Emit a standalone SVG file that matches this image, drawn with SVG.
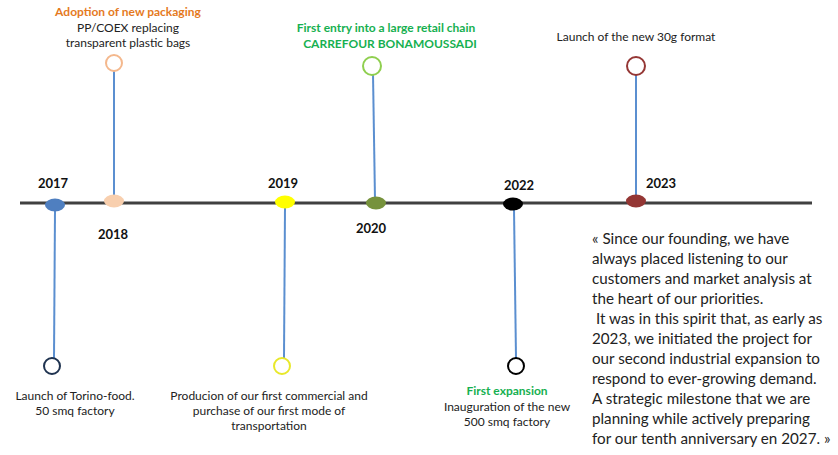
<svg xmlns="http://www.w3.org/2000/svg" width="838" height="455" viewBox="0 0 838 455">
<style>
text{font-family:Lato,"Liberation Sans",sans-serif;fill:#222}
.yr{font-size:13px;font-weight:bold;fill:#111}
.sm{font-size:12px;text-anchor:middle}
.tt{font-size:12px;font-weight:bold;text-anchor:middle}
.q{font-size:15.2px;white-space:pre}
.stem{stroke:#5b8fd0;stroke-width:2}
.ring{fill:#fff;stroke-width:2}
</style>
<rect width="838" height="455" fill="#fff"/>
<g id="connectors">
<line x1="20" y1="203" x2="812" y2="203" stroke="#404040" stroke-width="3"/>
<line class="stem" x1="114" y1="71" x2="114" y2="198"/>
<line class="stem" x1="373" y1="74" x2="375" y2="200"/>
<line class="stem" x1="636" y1="74" x2="636" y2="198"/>
<line class="stem" x1="55" y1="210" x2="54" y2="358"/>
<line class="stem" x1="285" y1="207" x2="284" y2="358"/>
<line class="stem" x1="514" y1="209" x2="516" y2="358"/>
</g>
<g id="n2017"><ellipse cx="55" cy="205" rx="10" ry="6.5" fill="#4f7fc0"/><text class="yr" x="38" y="188">2017</text>
<circle class="ring" cx="52" cy="366" r="8" stroke="#1f3350"/>
<text class="sm" x="75" y="400">Launch of Torino-food.</text><text class="sm" x="75" y="415">50 smq factory</text></g>
<g id="n2018"><ellipse cx="114" cy="201" rx="10" ry="6.5" fill="#f8cfae"/><text class="yr" x="98" y="239">2018</text>
<circle class="ring" cx="114" cy="63" r="8" stroke="#f4b88d"/>
<text class="tt" x="128" y="16" style="fill:#e57a1e">Adoption of new packaging</text>
<text class="sm" x="128" y="32">PP/COEX replacing</text><text class="sm" x="128" y="47">transparent plastic bags</text></g>
<g id="n2019"><ellipse cx="285" cy="202" rx="10" ry="6.5" fill="#ffff00"/><text class="yr" x="268" y="188">2019</text>
<circle class="ring" cx="282" cy="366" r="8" stroke="#e8e82a"/>
<text class="sm" x="269" y="400">Producion of our first commercial and</text><text class="sm" x="269" y="415">purchase of our first mode of</text><text class="sm" x="269" y="430">transportation</text></g>
<g id="n2020"><ellipse cx="376" cy="203" rx="10" ry="6.5" fill="#76923c"/><text class="yr" x="356" y="233">2020</text>
<circle class="ring" cx="372" cy="66" r="9" stroke="#8fcf4f"/>
<text class="tt" x="386" y="32" style="fill:#16b050">First entry into a large retail chain</text>
<text class="tt" x="390" y="48" style="fill:#16b050">CARREFOUR  BONAMOUSSADI</text></g>
<g id="n2022"><ellipse cx="513" cy="204" rx="10" ry="6.5" fill="#000"/><text class="yr" x="504" y="190">2022</text>
<circle class="ring" cx="516" cy="366" r="8" stroke="#000"/>
<text class="tt" x="507" y="395" style="fill:#16b050">First expansion</text>
<text class="sm" x="507" y="411">Inauguration of the new</text><text class="sm" x="507" y="426">500 smq factory</text></g>
<g id="n2023"><ellipse cx="636" cy="201" rx="10" ry="6.5" fill="#943634"/><text class="yr" x="646" y="188">2023</text>
<circle class="ring" cx="636" cy="66" r="9" stroke="#953735"/>
<text class="sm" x="636" y="41">Launch of the new 30g format</text></g>
<g id="quote">
<text class="q" x="592" y="244">« Since our founding, we have</text>
<text class="q" x="592" y="264">always placed listening to our</text>
<text class="q" x="592" y="284">customers and market analysis at</text>
<text class="q" x="592" y="304">the heart of our priorities.</text>
<text class="q" x="592" y="324" xml:space="preserve"> It was in this spirit that, as early as</text>
<text class="q" x="592" y="344">2023, we initiated the project for</text>
<text class="q" x="592" y="364">our second industrial expansion to</text>
<text class="q" x="592" y="384">respond to ever-growing demand.</text>
<text class="q" x="592" y="404">A strategic milestone that we are</text>
<text class="q" x="592" y="424">planning while actively preparing</text>
<text class="q" x="592" y="444">for our tenth anniversary en 2027. »</text>
</g>
</svg>
